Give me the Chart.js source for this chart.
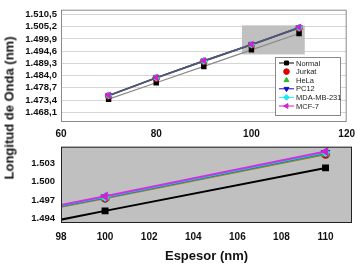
<!doctype html>
<html lang="es">
<head>
<meta charset="utf-8">
<title>Longitud de Onda vs Espesor</title>
<script src="https://cdn.jsdelivr.net/npm/chart.js"></script>
<style>
  body { margin: 0; background: #fff; }
  #wrap { position: relative; width: 361px; height: 265px; overflow: hidden; }
  #top { position: absolute; left: 0; top: 0; }
  #bottom { position: absolute; left: 0; top: 135px; }
  #ytitle {
    position: absolute; left: 9px; top: 108px;
    transform: translate(-50%, -50%) rotate(-90deg);
    font: bold 13px "Liberation Sans", Arial, sans-serif; white-space: nowrap; color: #111;
  }
</style>
</head>
<body>
<div id="wrap">
  <canvas id="top" width="361" height="140"></canvas>
  <canvas id="bottom" width="361" height="130"></canvas>
  <div id="ytitle">Longitud de Onda (nm)</div>
</div>
<script>
// espesor (nm)
const espesor = [70, 80, 90, 100, 110];
// longitud de onda (nm) por tipo celular
const normal = [1473.8, 1480.9, 1488.0, 1495.2, 1502.3];
const jurkat = [1475.2, 1482.9, 1490.2, 1497.3, 1504.55];
const hela   = [1475.3, 1483.0, 1490.3, 1497.35, 1504.65];
const pc12   = [1475.4, 1483.1, 1490.4, 1497.45, 1504.8];
const mda    = [1475.4, 1483.1, 1490.4, 1497.5, 1504.85];
const mcf7   = [1475.5, 1483.2, 1490.5, 1497.6, 1505.0];

const names = ['Normal', 'Jurkat', 'HeLa', 'PC12', 'MDA-MB-231', 'MCF-7'];
const series = [normal, jurkat, hela, pc12, mda, mcf7];

const topYTicks = [1468.1, 1473.4, 1478.7, 1484.0, 1489.3, 1494.6, 1499.9, 1505.2, 1510.5];
const topXTicks = [60, 80, 100, 120];
const botYTicks = [1494, 1497, 1500, 1503];
const botXTicks = [98, 100, 102, 104, 106, 108, 110];
// zona ampliada
const zoomX = [98, 111.2];
const zoomY = [1493.2, 1505.8];

const markerColor = ['#000000', '#e00000', '#22c022', '#1010c0', '#20e8f0', '#d020d0'];
const markerStyle = ['rect', 'circle', 'triangle', 'triangle', 'rectRot', 'triangle'];
const markerRot = [0, 0, 0, 180, 0, -90];
const botLine = ['#000000', '#e8602a', '#30b030', '#2040d0', '#20c8e0', '#d030e0'];

const font = 'Liberation Sans, Arial, sans-serif';

function fmt(v, dec) {
  return v.toLocaleString('de-DE', { minimumFractionDigits: dec, maximumFractionDigits: dec });
}

function makeDatasets(lineCols, radius) {
  return series.map((s, i) => ({
    label: names[i],
    data: espesor.map((x, j) => ({ x: x, y: s[j] })),
    borderColor: lineCols[i],
    backgroundColor: markerColor[i],
    pointBorderColor: markerColor[i],
    pointStyle: markerStyle[i],
    rotation: markerRot[i],
    pointRadius: radius,
    borderWidth: lineCols === botLine ? 2 : 1.2,
    order: 5 - i
  }));
}

const frame = {
  id: 'frame',
  beforeDraw(chart, args, o) {
    const a = chart.chartArea, c = chart.ctx;
    c.save();
    c.fillStyle = o.bg;
    c.fillRect(a.left, a.top, a.right - a.left, a.bottom - a.top);
    c.restore();
  },
  beforeDatasetsDraw(chart, args, o) {
    if (!o.box) return;
    const c = chart.ctx, xs = chart.scales.x, ys = chart.scales.y;
    const x0 = xs.getPixelForValue(zoomX[0]), x1 = xs.getPixelForValue(zoomX[1]);
    const y0 = ys.getPixelForValue(zoomY[1]), y1 = ys.getPixelForValue(zoomY[0]);
    c.save();
    c.fillStyle = '#c0c0c0';
    c.fillRect(x0, y0, x1 - x0, y1 - y0);
    c.restore();
  },
  afterDatasetsDraw(chart, args, o) {
    const a = chart.chartArea, c = chart.ctx;
    c.save();
    c.strokeStyle = o.border;
    c.lineWidth = 1;
    c.strokeRect(a.left + 0.5, a.top + 0.5, a.right - a.left - 1, a.bottom - a.top - 1);
    c.restore();
  }
};

const boxLegend = {
  id: 'boxLegend',
  afterDraw(chart) {
    const c = chart.ctx;
    const x = 275, y = 57, w = 65, h = 58;
    c.save();
    c.fillStyle = '#fff';
    c.fillRect(x, y, w, h);
    c.strokeStyle = '#888';
    c.lineWidth = 1;
    c.strokeRect(x + 0.5, y + 0.5, w, h);
    c.font = '7.5px ' + font;
    c.textBaseline = 'middle';
    names.forEach((n, i) => {
      const yy = y + 6 + i * 8.6;
      if (i === 0 || i >= 3) {
        c.strokeStyle = i === 0 ? '#000' : markerColor[i];
        c.beginPath(); c.moveTo(x + 4, yy); c.lineTo(x + 19, yy); c.stroke();
      }
      c.fillStyle = markerColor[i];
      c.strokeStyle = markerColor[i];
      Chart.helpers.drawPoint(c, { pointStyle: markerStyle[i], rotation: markerRot[i], radius: 2.8, borderWidth: 1 }, x + 11.5, yy);
      c.fillStyle = '#222';
      c.fillText(n, x + 21, yy + 0.5);
    });
    c.restore();
  }
};

new Chart(document.getElementById('top'), {
  type: 'line',
  data: { datasets: makeDatasets(['#8a8a8a', '#505878', '#505878', '#505878', '#505878', '#505878'], 3) },
  options: {
    responsive: false, animation: false, events: [],
    layout: { padding: { top: 5, right: 8, left: 0, bottom: 0 } },
    plugins: { legend: { display: false }, tooltip: { enabled: false },
      frame: { bg: '#ffffff', border: '#8a8a8a', box: true } },
    scales: {
      x: {
        type: 'linear', min: 60, max: 120,
        afterBuildTicks: s => { s.ticks = topXTicks.map(v => ({ value: v })); },
        afterFit: s => { s.height = 18; },
        grid: { display: false, drawTicks: false },
        border: { display: false },
        ticks: { padding: 6, autoSkip: false, color: '#111', font: { family: font, size: 10, weight: 'bold' } }
      },
      y: {
        min: 1463.9, max: 1512.6,
        afterBuildTicks: s => { s.ticks = topYTicks.map(v => ({ value: v })); },
        afterFit: s => { s.width = 61; },
        grid: { color: '#d6d6d6', drawTicks: false },
        border: { display: false },
        ticks: { padding: 4, autoSkip: false, color: '#111', callback: v => fmt(v, 1),
          font: { family: font, size: 9.5, weight: 'bold' } }
      }
    }
  },
  plugins: [frame, boxLegend]
});

new Chart(document.getElementById('bottom'), {
  type: 'line',
  data: { datasets: makeDatasets(botLine, 3.5) },
  options: {
    responsive: false, animation: false, events: [],
    layout: { padding: { top: 7, right: 9, left: 0, bottom: 0 } },
    plugins: { legend: { display: false }, tooltip: { enabled: false },
      frame: { bg: '#c0c0c0', border: '#222', box: false } },
    scales: {
      x: {
        type: 'linear', min: zoomX[0], max: zoomX[1],
        afterBuildTicks: s => { s.ticks = botXTicks.map(v => ({ value: v })); },
        afterFit: s => { s.height = 42; },
        grid: { display: false, drawTicks: false },
        border: { display: false },
        ticks: { padding: 8, autoSkip: false, color: '#111', font: { family: font, size: 10, weight: 'bold' } },
        title: { display: true, text: 'Espesor (nm)', color: '#111', padding: { top: 4, bottom: 1 },
          font: { family: font, size: 13, weight: 'bold' } }
      },
      y: {
        min: zoomY[0], max: zoomY[1],
        afterBuildTicks: s => { s.ticks = botYTicks.map(v => ({ value: v })); },
        afterFit: s => { s.width = 61; },
        grid: { display: false, drawTicks: false },
        border: { display: false },
        ticks: { padding: 6, autoSkip: false, color: '#111', callback: v => fmt(v, 0),
          font: { family: font, size: 9.5, weight: 'bold' } }
      }
    }
  },
  plugins: [frame]
});
</script>
</body>
</html>
